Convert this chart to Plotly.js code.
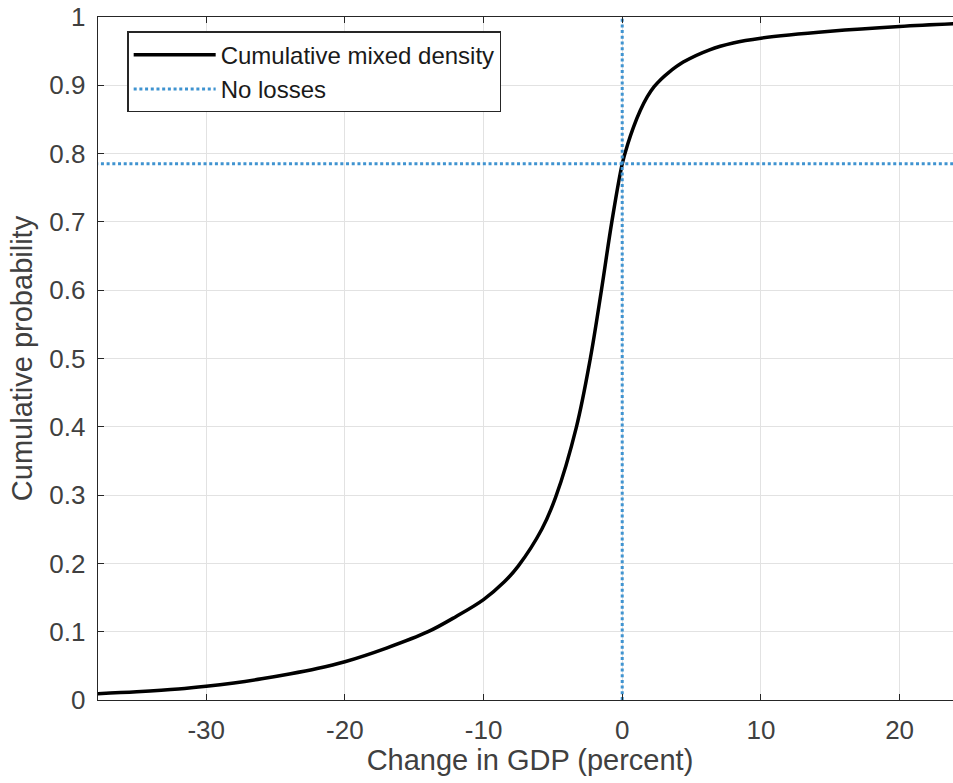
<!DOCTYPE html>
<html>
<head>
<meta charset="utf-8">
<script src="https://cdn.plot.ly/plotly-3.0.1.min.js"></script>
<style>
html, body { margin: 0; padding: 0; overflow: hidden; background: #fff; }
#chart { width: 962px; height: 783px; }
</style>
</head>
<body>
<div id="chart"></div>
<script>
// Cumulative mixed density
const gdpChange = [-38, -35, -32, -30, -28, -26, -24, -22, -20, -17, -14, -12, -10, -8.5, -7.5, -5.8, -4.8, -3.3, -2.3, -1.5, -0.75, 0, 0.4, 0.8, 1.3, 1.8, 2.3, 2.8, 3.3, 4.4, 6.3, 8, 10, 15, 20, 25];
const cumProb   = [0.009, 0.012, 0.016, 0.020, 0.025, 0.031, 0.038, 0.046, 0.056, 0.076, 0.1, 0.122, 0.147, 0.173, 0.196, 0.25, 0.297, 0.4, 0.5, 0.6, 0.7, 0.785, 0.814, 0.838, 0.863, 0.883, 0.898, 0.909, 0.918, 0.934, 0.952, 0.962, 0.969, 0.979, 0.986, 0.991];

// "No losses" reference lines: vertical at 0, horizontal at P(no losses)
const noLossX = [0, 0, null, -38, 25];
const noLossY = [0, 1, null, 0.785, 0.785];

const xTickVals = [-30, -20, -10, 0, 10, 20];
const xTickText = ['-30', '-20', '-10', '0', '10', '20'];
const yTickVals = [0, 0.1, 0.2, 0.3, 0.4, 0.5, 0.6, 0.7, 0.8, 0.9, 1];
const yTickText = ['0', '0.1', '0.2', '0.3', '0.4', '0.5', '0.6', '0.7', '0.8', '0.9', '1'];

const seriesNames = ['Cumulative mixed density', 'No losses'];

const FONT = '"Liberation Sans", Arial, Helvetica, sans-serif';
const AX = '#262626';

const traces = [
  {
    x: gdpChange, y: cumProb, name: seriesNames[0], type: 'scatter', mode: 'lines',
    line: { color: '#000000', width: 3.5, shape: 'spline', smoothing: 1 }
  },
  {
    x: noLossX, y: noLossY, name: seriesNames[1], type: 'scatter', mode: 'lines',
    connectgaps: false,
    line: { color: '#3f93d0', width: 3, dash: '3px,2.7px' }
  }
];

const axisCommon = {
  showline: true, linecolor: AX, linewidth: 1.3, mirror: 'ticks',
  ticks: 'inside', ticklen: 6, tickwidth: 1, tickcolor: AX,
  showgrid: true, gridcolor: '#e2e2e2', gridwidth: 1,
  zeroline: false,
  tickfont: { family: FONT, size: 26, color: '#404040' }
};

const layout = {
  width: 962, height: 783,
  margin: { l: 98, r: 0, t: 17, b: 83 },
  paper_bgcolor: '#ffffff', plot_bgcolor: '#ffffff',
  showlegend: true,
  xaxis: Object.assign({}, axisCommon, {
    range: [-37.8, 24.5], autorange: false,
    tickmode: 'array', tickvals: xTickVals, ticktext: xTickText,
    ticklabelstandoff: 6,
    title: { text: 'Change in GDP (percent)', font: { family: FONT, size: 29, color: '#404040' }, standoff: 4 }
  }),
  yaxis: Object.assign({}, axisCommon, {
    range: [0, 1], autorange: false,
    tickmode: 'array', tickvals: yTickVals, ticktext: yTickText,
    ticklabelstandoff: 6,
    title: { text: 'Cumulative probability', font: { family: FONT, size: 29, color: '#404040' }, standoff: 8 }
  }),
  legend: {
    x: 0.034, y: 0.979, xanchor: 'left', yanchor: 'top',
    bgcolor: '#ffffff', bordercolor: AX, borderwidth: 1.3,
    font: { family: FONT, size: 24, color: '#1a1a1a' },
    itemwidth: 82, tracegroupgap: 0
  }
};

Plotly.newPlot('chart', traces, layout, { displayModeBar: false, staticPlot: true });
</script>
</body>
</html>
